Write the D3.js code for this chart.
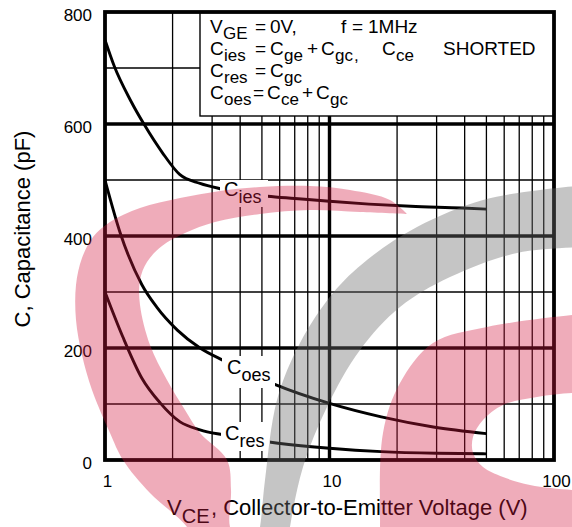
<!DOCTYPE html>
<html>
<head>
<meta charset="utf-8">
<script src="https://cdn.jsdelivr.net/npm/d3@7"></script>
<style>
  html, body { margin: 0; padding: 0; background: #fff; }
  svg { display: block; font-family: "Liberation Sans", Arial, Helvetica, sans-serif; }
</style>
</head>
<body>
<svg id="chart" width="572" height="527"></svg>
<script>
// Capacitance vs. collector-to-emitter voltage (VGE = 0 V, f = 1 MHz)
const vIes = [1, 1.1, 1.3, 1.5, 1.8, 2.15, 2.65, 3.3, 5.3, 7, 10, 15, 23, 39, 50];
const cIes = [750, 703, 642, 598, 549, 510, 494, 484, 471, 467, 462, 457, 453, 450, 448];
const vOes = [1, 1.17, 1.46, 1.7, 2.1, 2.65, 3.4, 5.7, 10, 17, 29, 50];
const cOes = [500, 405, 313, 273, 232, 200, 177, 135, 101, 77, 59, 47];
const vRes = [1, 1.2, 1.46, 1.76, 2.16, 2.65, 3.35, 5.9, 10, 17, 30, 50];
const cRes = [300, 220, 146, 102, 68, 54, 45, 30, 21, 15, 12, 11];

const xTickValues = [1, 10, 100];
const yTickValues = [0, 200, 400, 600, 800];
const xMinor = [2, 3, 4, 5, 6, 7, 8, 9, 20, 30, 40, 50, 60, 70, 80, 90];
const xMajor = [10];
const yMinor = [100, 300, 500, 700];
const yMajor = [200, 400, 600];

const svg = d3.select("#chart");
const L = 105, R = 554, T = 12, B = 460;

const x = d3.scaleLog().domain([1, 100]).range([L, R]);
const y = d3.scaleLinear().domain([0, 800]).range([B, T]);

// grid
const grid = svg.append("g");
grid.selectAll(".xmin").data(xMinor).join("line")
  .attr("x1", d => x(d)).attr("x2", d => x(d)).attr("y1", T).attr("y2", B)
  .attr("stroke", "#000").attr("stroke-width", 1.3);
grid.selectAll(".ymin").data(yMinor).join("line")
  .attr("x1", L).attr("x2", R).attr("y1", d => y(d)).attr("y2", d => y(d))
  .attr("stroke", "#000").attr("stroke-width", 1.3);
grid.selectAll(".xmaj").data(xMajor).join("line")
  .attr("x1", d => x(d)).attr("x2", d => x(d)).attr("y1", T).attr("y2", B)
  .attr("stroke", "#000").attr("stroke-width", 3.4);
grid.selectAll(".ymaj").data(yMajor).join("line")
  .attr("x1", L).attr("x2", R).attr("y1", d => y(d)).attr("y2", d => y(d))
  .attr("stroke", "#000").attr("stroke-width", 3.4);

// curves
const line = d3.line().x(d => x(d[0])).y(d => y(d[1])).curve(d3.curveMonotoneX);
const series = [
  { v: vIes, c: cIes },
  { v: vOes, c: cOes },
  { v: vRes, c: cRes }
];
svg.append("g").selectAll("path").data(series).join("path")
  .attr("d", s => line(s.v.map((v, i) => [v, s.c[i]])))
  .attr("fill", "none").attr("stroke", "#000").attr("stroke-width", 2.9);

// curve labels with white knock-out
const curveLabels = [
  { sub: "ies", x: 224, y: 196, box: [220, 180, 48, 27] },
  { sub: "oes", x: 227, y: 374, box: [222, 356, 53, 32] },
  { sub: "res", x: 225, y: 440, box: [221, 422, 49, 29] }
];
const cl = svg.append("g");
curveLabels.forEach(lb => {
  cl.append("rect").attr("x", lb.box[0]).attr("y", lb.box[1])
    .attr("width", lb.box[2]).attr("height", lb.box[3]).attr("fill", "#fff");
  const t = cl.append("text").attr("x", lb.x).attr("y", lb.y)
    .attr("font-size", 20).attr("fill", "#000");
  t.append("tspan").text("C");
  t.append("tspan").attr("dy", 7).attr("font-size", 18).text(lb.sub);
});

// legend box
svg.append("rect").attr("x", 200).attr("y", T).attr("width", R - 200).attr("height", 104)
  .attr("fill", "#fff").attr("stroke", "#000").attr("stroke-width", 1.4);

const legendLines = [
  { y: 33, parts: [["V", 210], ["GE", 223, 1], ["=", 255], ["0V,", 270], ["f", 341], ["=", 352], ["1MHz", 368]] },
  { y: 55, parts: [["C", 210], ["ies", 224, 1], ["=", 255], ["C", 270], ["ge", 284, 1], ["+", 307], ["C", 321], ["gc", 335, 1], [",", 354, 1], ["C", 382], ["ce", 396, 1], ["SHORTED", 443]] },
  { y: 77, parts: [["C", 210], ["res", 224, 1], ["=", 255], ["C", 270], ["gc", 284, 1]] },
  { y: 99, parts: [["C", 210], ["oes", 224, 1], ["=", 253], ["C", 267], ["ce", 281, 1], ["+", 302], ["C", 316], ["gc", 330, 1]] }
];
const lg = svg.append("g");
legendLines.forEach(ln => {
  const t = lg.append("text").attr("fill", "#000");
  ln.parts.forEach(p => {
    t.append("tspan").attr("x", p[1]).attr("y", p[2] ? ln.y + 6 : ln.y)
      .attr("font-size", p[2] ? 17 : 19).text(p[0]);
  });
});

// plot frame
svg.append("rect").attr("x", L).attr("y", T).attr("width", R - L).attr("height", B - T)
  .attr("fill", "none").attr("stroke", "#000").attr("stroke-width", 3.8);

// axes (labels only)
const yAxis = svg.append("g").attr("transform", `translate(${L},0)`)
  .call(d3.axisLeft(y).tickValues(yTickValues).tickSize(0).tickPadding(13).tickFormat(d3.format("d")));
yAxis.select(".domain").remove();
yAxis.selectAll("text").attr("font-size", 17).attr("dy", "0.52em").attr("fill", "#000");

const xAxis = svg.append("g").attr("transform", `translate(0,${B})`)
  .call(d3.axisBottom(x).tickValues(xTickValues).tickSize(0).tickPadding(15).tickFormat(d3.format("d")));
xAxis.select(".domain").remove();
xAxis.selectAll("text").attr("font-size", 17).attr("dx", 2).attr("fill", "#000");
yAxis.attr("font-family", null);
xAxis.attr("font-family", null);

// axis titles
const xt = svg.append("text").attr("font-size", 22).attr("fill", "#000");
xt.append("tspan").attr("x", 167).attr("y", 515).text("V");
xt.append("tspan").attr("y", 523).attr("font-size", 20).text("CE");
xt.append("tspan").attr("x", 211).attr("y", 515).text(", Collector-to-Emitter Voltage (V)");

svg.append("text").attr("transform", "translate(30,229) rotate(-90)")
  .attr("text-anchor", "middle").attr("font-size", 22).attr("fill", "#000")
  .text("C, Capacitance (pF)");

// translucent logo marks laid over the sheet
const smooth = d3.line().curve(d3.curveCatmullRom);
function band(outer, inner, extra) {
  let p = smooth(outer) + smooth(inner).replace(/^M/, "L");
  if (extra) p += extra;
  return p + "Z";
}
const pinkA = band(
  [[407,214],[390,200],[350,190],[310,186],[260,187],[220,191],[180,198],[140,208],[110,222],[93,237],[82,258],[76,285],[76,320],[82,355],[92,390],[110,433],[123,460],[150,493],[187,527],[195,545]],
  [[240,545],[230,527],[231,490],[227,460],[200,433],[185,410],[167,380],[150,345],[140,305],[140,280],[147,262],[162,246],[185,233],[215,222],[260,214],[310,210],[360,212],[407,214]]
);
const grayArc = band(
  [[256,545],[260,527],[265,480],[277,400],[300,343],[333,293],[367,260],[417,227],[483,200],[540,190],[590,185]],
  [[590,247],[517,253],[450,277],[400,307],[360,350],[327,407],[303,467],[290,527],[288,545]]
);
// outer sweep of the right-hand mark, its open white bowl, then the lower arm to the corner
const pinkB = band(
  [[380,560],[380,527],[383,433],[400,383],[433,343],[487,327],[572,315],[600,313]],
  [[600,393],[572,393],[537,397],[503,405],[483,420],[473,437],[473,453],[483,467],[503,477],[530,485],[572,490],[600,491]],
  "L600,560"
);
const wm = svg.append("g");
wm.append("path").attr("d", grayArc).attr("fill", "rgb(110,110,110)").attr("fill-opacity", 0.4);
wm.append("path").attr("d", pinkA).attr("fill", "rgb(210,25,65)").attr("fill-opacity", 0.36);
wm.append("path").attr("d", pinkB).attr("fill", "rgb(210,25,65)").attr("fill-opacity", 0.36);
</script>
</body>
</html>
